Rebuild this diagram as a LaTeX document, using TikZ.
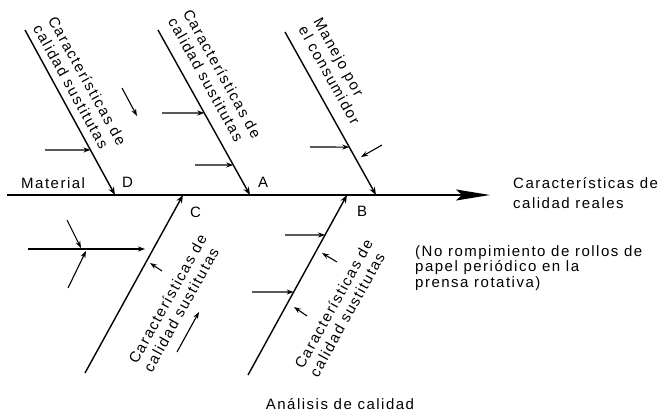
\documentclass[tikz,border=0pt]{standalone}
\usepackage{fontspec}
\setmainfont[LetterSpace=10]{Liberation Sans}
\usetikzlibrary{arrows.meta,calc}
\tikzset{
    bone/.style={line width=1.4pt,-{Stealth[length=8pt,width=6pt]}},
    twig/.style={line width=1.1pt,-{Stealth[length=7pt,width=5pt]}},
    tag/.style={inner sep=0pt,font=\fontsize{15}{16}\selectfont},
    bonetext/.style={tag,align=left,font=\fontsize{15}{17}\selectfont}
}
\begin{document}
\begin{tikzpicture}[x=1pt,y=-1pt]
        \useasboundingbox (0,0) rectangle (665,412);
        % spine
        \coordinate (tail) at (7,195);
        \coordinate (head) at (490,195);
        \draw[line width=1.6pt,-{Stealth[length=34pt,width=11pt,inset=6pt]}] (tail) -- (head);
        % main bones
        \coordinate (d0) at (25,30);   \coordinate (d1) at (115,195);
        \coordinate (a0) at (158,30);  \coordinate (a1) at (250,195);
        \coordinate (m0) at (285,32);  \coordinate (m1) at (376,195);
        \coordinate (c0) at (85,373);  \coordinate (c1) at (183,195);
        \coordinate (b0) at (248,375); \coordinate (b1) at (347,195);
        \foreach \s in {d,a,m,c,b}
            \draw[bone] (\s0) -- (\s1);
        % small causes
        \coordinate (dt0) at (45,150);  \coordinate (dt1) at ($(d0)!.727!(d1)$);
        \coordinate (df0) at (122,88);  \coordinate (df1) at (137,116);
        \coordinate (at0) at (162,113); \coordinate (at1) at ($(a0)!.503!(a1)$);
        \coordinate (au0) at (195,165); \coordinate (au1) at ($(a0)!.818!(a1)$);
        \coordinate (mt0) at (310,147); \coordinate (mt1) at ($(m0)!.706!(m1)$);
        \coordinate (md0) at (382,145); \coordinate (md1) at (361,157);
        \coordinate (ct0) at (28,249);  \coordinate (ct1) at (145,249);
        \coordinate (cs0) at (67,220);  \coordinate (cs1) at (81,248);
        \coordinate (cr0) at (68,288);  \coordinate (cr1) at (86,251);
        \coordinate (cd0) at (162,271); \coordinate (cd1) at (150,263);
        \coordinate (cf0) at (177,352); \coordinate (cf1) at (199,312);
        \coordinate (bt0) at (285,235); \coordinate (bt1) at ($(b0)!.778!(b1)$);
        \coordinate (bd0) at (337,262); \coordinate (bd1) at (322,253);
        \coordinate (bu0) at (252,292); \coordinate (bu1) at ($(b0)!.461!(b1)$);
        \coordinate (be0) at (307,316); \coordinate (be1) at (294,307);
        \foreach \t in {dt,df,at,au,mt,md,ct,cs,cr,cd,cf,bt,bd,bu,be}
            \draw[twig] (\t0) -- (\t1);
        % labels
        \node[tag,anchor=base west] (mat) at (21,188) {Material};
        \node[tag,anchor=base west] (lD) at (122,187) {D};
        \node[tag,anchor=base west] (lA) at (258,187) {A};
        \node[tag,anchor=base west] (lB) at (357,216) {B};
        \node[tag,anchor=base west] (lC) at (190,217) {C};
        \node[bonetext,rotate=-61] (tD) at (80,85) {Características de\\calidad sustitutas};
        \node[bonetext,rotate=-61] (tA) at (215,78) {Características de\\calidad sustitutas};
        \node[bonetext,rotate=-61] (tM) at (337,71) {Manejo por\\el consumidor};
        \node[bonetext,rotate=61] (tC) at (175,303) {Características de\\calidad sustitutas};
        \node[bonetext,rotate=61] (tB) at (341,308) {Características de\\calidad sustitutas};
        \node[
            tag,
            anchor=north west,
            align=left,
            font=\fontsize{15}{20}\selectfont
        ] (real) at (513,177)
            {Características de\\
             calidad reales};
        \node[
            tag,
            anchor=north west,
            align=left,
            font=\fontsize{15}{15.5}\selectfont
        ] (nota) at (415,245)
            {(No rompimiento de rollos de\\
             papel periódico en la\\
             prensa rotativa)};
        \node[tag,anchor=base] (titulo) at (340,409) {Análisis de calidad};
    \end{tikzpicture}
\end{document}
